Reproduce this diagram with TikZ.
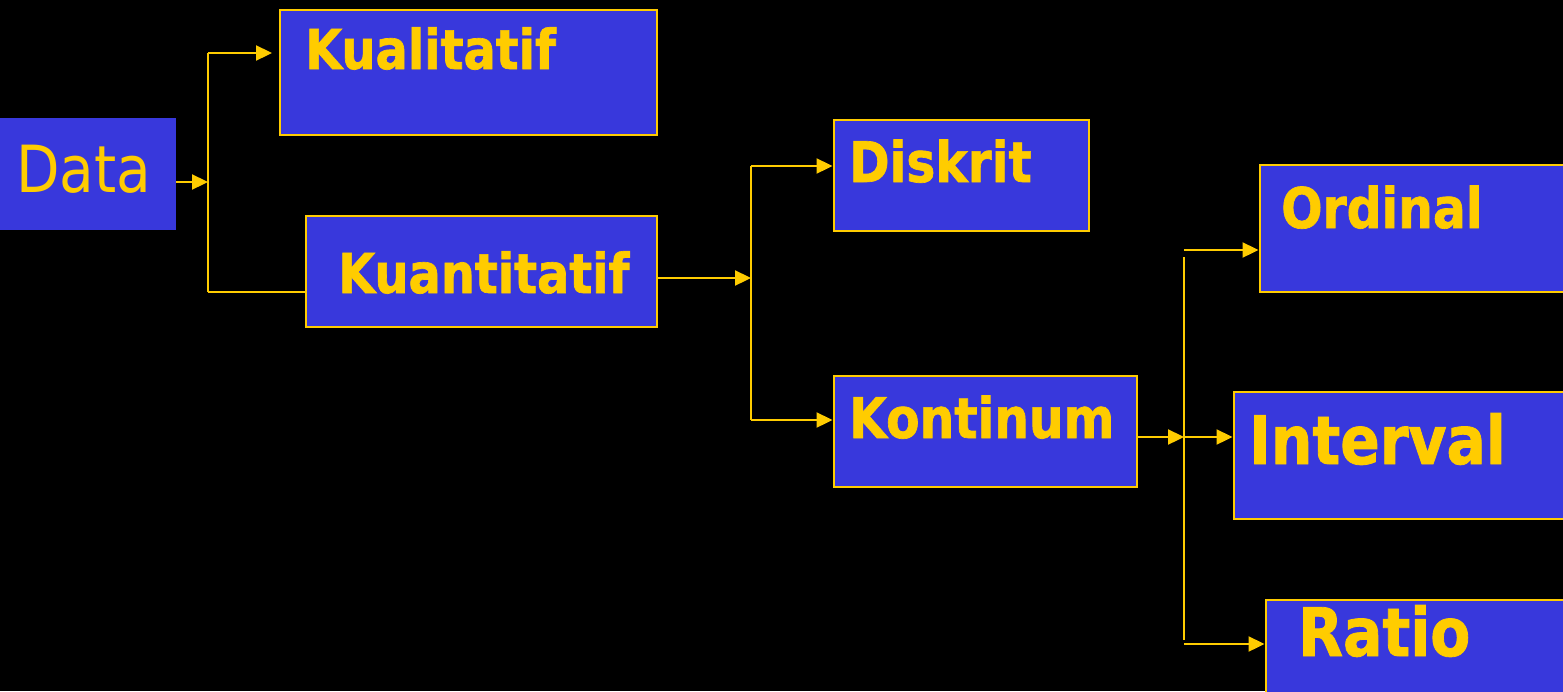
\documentclass[tikz,border=0pt]{standalone}
\usepackage{fontspec}
\setmainfont{DejaVu Sans}
\newfontfamily\tfont[FakeStretch=0.87, BoldFeatures={FakeBold=1.2}]{DejaVu Sans}
\usetikzlibrary{arrows.meta}
\definecolor{bx}{RGB}{56,56,220}
\definecolor{yl}{RGB}{255,204,0}
\begin{document}
\begin{tikzpicture}[x=1pt,y=-1pt,
  box/.style={draw=yl, line width=2pt, fill=bx, inner sep=0pt, anchor=north west},
  lbl/.style={text=yl, anchor=base west, inner sep=0pt},
  bf/.style={font={\tfont\bfseries\fontsize{#1}{#1}\selectfont}},
  conn/.style={draw=yl, line width=2.3pt},
  arr/.style={conn, -{Triangle[length=16pt,width=15pt]}}]
\fill[black] (0,0) rectangle (1563,691);
\useasboundingbox (0,0) rectangle (1563,691);
\clip (0,0) rectangle (1563,691);

% boxes
\node[fill=bx, inner sep=0pt, anchor=north west, minimum width=176pt, minimum height=112pt] (data) at (0,118) {};
\node[box, minimum width=377pt, minimum height=125pt] (kual) at (278.5,8.5) {};
\node[box, minimum width=351pt, minimum height=111pt] (kuan) at (304.5,214.5) {};
\node[box, minimum width=255pt, minimum height=111pt] (disk) at (832.5,118.5) {};
\node[box, minimum width=303pt, minimum height=111pt] (kont) at (832.5,374.5) {};
\node[box, minimum width=320pt, minimum height=127pt] (ordi) at (1258.5,163.5) {};
\node[box, minimum width=350pt, minimum height=127pt] (inte) at (1232.5,390.5) {};
\node[box, minimum width=320pt, minimum height=127pt] (rati) at (1264.5,598.5) {};

% labels
\node[lbl, font={\tfont\fontsize{65}{65}\selectfont}] (tdata) at (16,192) {Data};
\node[lbl, bf=55] (tkual) at (305,69) {Kualitatif};
\node[lbl, bf=55] (tkuan) at (338,293) {Kuantitatif};
\node[lbl, bf=56] (tdisk) at (849,182) {Diskrit};
\node[lbl, bf=56] (tkont) at (849,438) {Kontinum};
\node[lbl, bf=56] (tordi) at (1281,228) {Ordinal};
\node[lbl, bf=67] (tinte) at (1249,464) {Interval};
\node[lbl, bf=67] (trati) at (1298,656) {Ratio};

% junctions
\coordinate (j1) at (208,182);
\coordinate (j1t) at (208,53);
\coordinate (j1b) at (208,292);
\coordinate (k1) at (272,53);
\coordinate (j2) at (751,278);
\coordinate (j2t) at (751,166);
\coordinate (j2b) at (751,420);
\coordinate (j3) at (1184,437);
\coordinate (j3t) at (1184,257);
\coordinate (j3b) at (1184,640);
\coordinate (j3o) at (1184,250);
\coordinate (j3r) at (1184,644);

% connectors
\draw[arr] (data.east |- j1) -- (j1);
\draw[conn] (j1t) -- (j1b);
\draw[arr] (j1t) -- (k1);
\draw[conn] (j1b) -- (kuan.west |- j1b);

\draw[arr] (kuan.east |- j2) -- (j2);
\draw[conn] (j2t) -- (j2b);
\draw[arr] (j2t) -- (disk.west |- j2t);
\draw[arr] (j2b) -- (kont.west |- j2b);

\draw[arr] (kont.east |- j3) -- (j3);
\draw[conn] (j3t) -- (j3b);
\draw[arr] (j3o) -- (ordi.west |- j3o);
\draw[arr] (j3) -- (inte.west |- j3);
\draw[arr] (j3r) -- (rati.west |- j3r);
\end{tikzpicture}
\end{document}
